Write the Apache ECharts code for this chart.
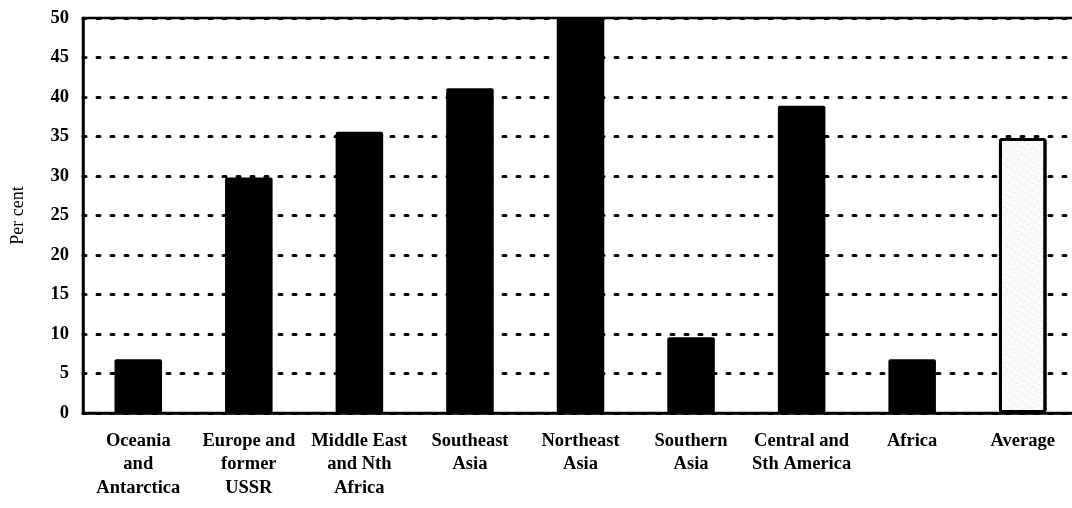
<!DOCTYPE html>
<html>
<head>
<meta charset="utf-8">
<script src="https://cdn.jsdelivr.net/npm/echarts@6/dist/echarts.min.js"></script>
<style>html,body{margin:0;padding:0;background:#fff}#c{width:1072px;height:508px}</style>
</head>
<body>
<div id="c"></div>
<script>
const categories = ['Oceania\nand\nAntarctica','Europe and\nformer\nUSSR','Middle East\nand Nth\nAfrica','Southeast\nAsia','Northeast\nAsia','Southern\nAsia','Central and\nSth America','Africa','Average'];
const values = [6.8, 29.8, 35.6, 41.1, 55, 9.6, 38.9, 6.8, 34.8];
const yTicks = [0,5,10,15,20,25,30,35,40,45,50];

const chart = echarts.init(document.getElementById('c'), null, {renderer:'canvas'});
const serif = '"Liberation Serif", "DejaVu Serif", serif';
const data = values.map((v,i) => {
  if (categories[i] === 'Average') {
    return {value:v, itemStyle:{color:'#fafafa', borderColor:'#000', borderWidth:3,
      decal:{symbol:'circle', symbolSize:0.7, color:'rgba(0,0,0,0.6)', dashArrayX:[[1,4]], dashArrayY:[1,5], rotation:0.6}}};
  }
  return v;
});
chart.setOption({
  animation:false,
  grid:{left:83, right:-6, top:18, bottom:95, containLabel:false, outerBoundsMode:'none',
    show:true, borderColor:'#000', borderWidth:2.5, backgroundColor:'transparent'},
  xAxis:{type:'category', data:categories,
    axisLine:{show:true, lineStyle:{color:'#000', width:2.5}},
    axisTick:{show:false},
    axisLabel:{color:'#000', fontFamily:serif, fontWeight:'bold', fontSize:18.5, lineHeight:23.5, margin:16, interval:0}},
  yAxis:{type:'value', min:0, max:50, interval:5,
    name:'Per cent', nameLocation:'middle', nameGap:56, nameRotate:90,
    nameTextStyle:{color:'#000', fontFamily:serif, fontSize:18},
    axisLine:{show:true, lineStyle:{color:'#000', width:2.5}},
    axisTick:{show:false},
    axisLabel:{color:'#000', fontFamily:serif, fontWeight:'bold', fontSize:18.5, margin:14,
      formatter:(v)=> yTicks.includes(v) ? String(v) : ''},
    splitLine:{show:true, lineStyle:{color:'#000', width:3, type:[3,11], cap:'round'}}},
  series:[{type:'bar', data:data, barWidth:'43%', clip:true,
    itemStyle:{color:'#000', borderRadius:2}}]
});
</script>
</body>
</html>
